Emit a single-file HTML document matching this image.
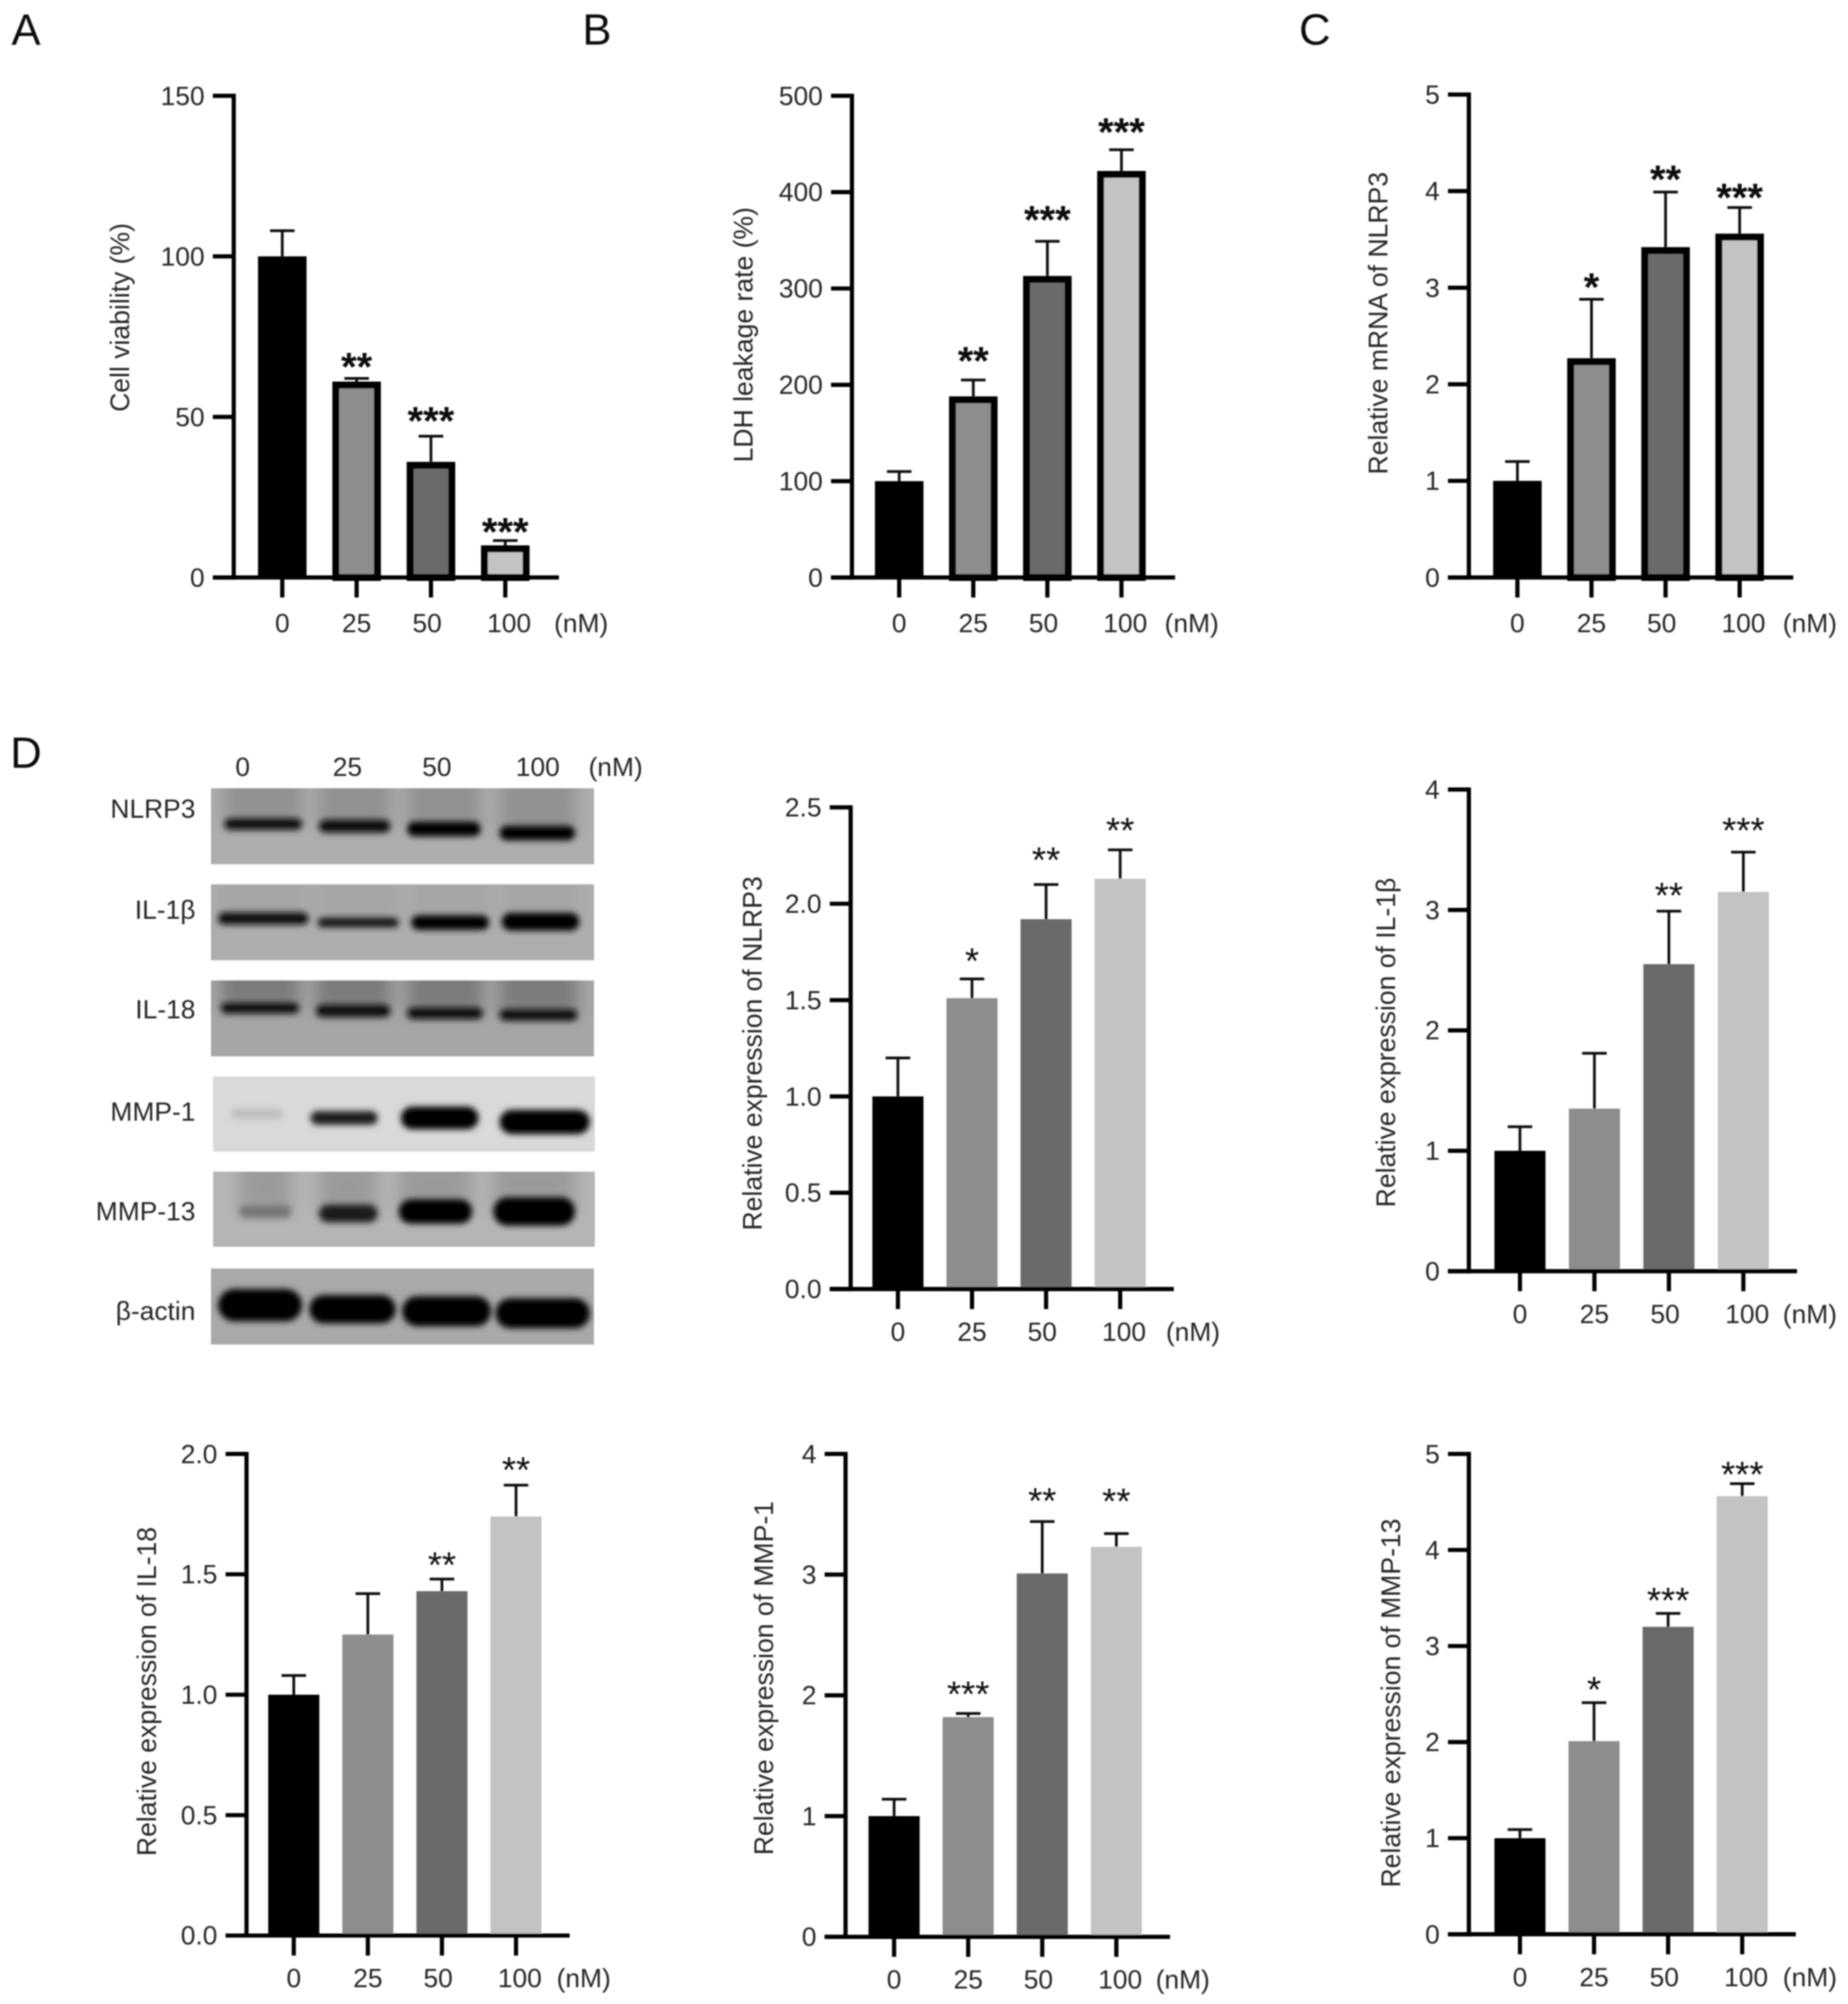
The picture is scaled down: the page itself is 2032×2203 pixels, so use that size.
<!DOCTYPE html>
<html lang="en">
<head>
<meta charset="utf-8">
<title>Dose-response bar charts and western blots</title>
<style>
html,body{margin:0;padding:0;background:#fff;}
svg{display:block;}
text{font-family:"Liberation Sans",sans-serif;fill:#262626;}
</style>
</head>
<body>
<svg id="figure" xmlns="http://www.w3.org/2000/svg" width="2032" height="2203" viewBox="0 0 2032 2203">
<defs>
<filter id="soft" x="-2%" y="-2%" width="104%" height="104%"><feGaussianBlur stdDeviation="0.8"/></filter>
<filter id="bandBlur" x="-20%" y="-60%" width="140%" height="220%"><feGaussianBlur stdDeviation="3.5"/></filter>
<filter id="hazeBlur" x="-30%" y="-50%" width="160%" height="200%"><feGaussianBlur stdDeviation="9"/></filter>
</defs>
<rect x="0" y="0" width="2032" height="2203" fill="#fff"/>
<g id="root" filter="url(#soft)"></g>
</svg>
<script>
// ---- chart data ----
const doseCategories = ['0', '25', '50', '100'];

const viabilityTicks = [0, 50, 100, 150];
const viabilityValues = [100, 61, 36, 10];
const viabilityErrorTops = [108, 62, 44, 11.5];
const viabilityStars = ['', '**', '***', '***'];

const ldhTicks = [0, 100, 200, 300, 400, 500];
const ldhValues = [100, 188, 313, 422];
const ldhErrorTops = [110, 205, 349, 444];
const ldhStars = ['', '**', '***', '***'];

const mrnaTicks = [0, 1, 2, 3, 4, 5];
const mrnaValues = [1, 2.27, 3.42, 3.56];
const mrnaErrorTops = [1.2, 2.88, 3.99, 3.83];
const mrnaStars = ['', '*', '**', '***'];

const nlrp3Ticks = ['0.0', '0.5', '1.0', '1.5', '2.0', '2.5'];
const nlrp3Values = [1, 1.51, 1.92, 2.13];
const nlrp3ErrorTops = [1.2, 1.61, 2.1, 2.28];
const nlrp3Stars = ['', '*', '**', '**'];

const il1bTicks = [0, 1, 2, 3, 4];
const il1bValues = [1, 1.35, 2.55, 3.15];
const il1bErrorTops = [1.2, 1.81, 2.99, 3.48];
const il1bStars = ['', '', '**', '***'];

const il18Ticks = ['0.0', '0.5', '1.0', '1.5', '2.0'];
const il18Values = [1, 1.25, 1.43, 1.74];
const il18ErrorTops = [1.08, 1.42, 1.48, 1.87];
const il18Stars = ['', '', '**', '**'];

const mmp1Ticks = [0, 1, 2, 3, 4];
const mmp1Values = [1, 1.82, 3.01, 3.23];
const mmp1ErrorTops = [1.14, 1.85, 3.44, 3.34];
const mmp1Stars = ['', '***', '**', '**'];

const mmp13Ticks = [0, 1, 2, 3, 4, 5];
const mmp13Values = [1, 2.01, 3.2, 4.56];
const mmp13ErrorTops = [1.09, 2.41, 3.34, 4.69];
const mmp13Stars = ['', '*', '***', '***'];

// ---- layout ----
const S = 2032 / 1449 * 1.0015;
const NS = 'http://www.w3.org/2000/svg';
const root = document.getElementById('root');
const barColors = ['#000000', '#8d8d8d', '#6a6a6a', '#c3c3c3'];
const labelShift = [0, 0, -3, 3];
const FONT = 29;

function make(parent, tag, props, content) {
  const el = document.createElementNS(NS, tag);
  for (const k in props) el.setAttribute(k, props[k]);
  if (content !== undefined) el.textContent = content;
  parent.appendChild(el);
  return el;
}

const panels = [
  {id: 'cell-viability', title: 'Cell viability (%)', ticks: viabilityTicks, values: viabilityValues, errs: viabilityErrorTops, stars: viabilityStars, starLift: [0, 2, 5, 0],
   axisX: 183, top: 75, bottom: 452, first: 221, step: 58.2, barW: 38, outlined: true, titleX: 94, titleY: 248.5, nmX: 455, starBold: true},
  {id: 'ldh-leakage', title: 'LDH leakage rate (%)', ticks: ldhTicks, values: ldhValues, errs: ldhErrorTops, stars: ldhStars, starLift: [0, 8, 10, 7],
   axisX: 667, top: 75, bottom: 452, first: 704, step: 58, barW: 38, outlined: true, titleX: 582, titleY: 262, nmX: 933, starBold: true},
  {id: 'nlrp3-mrna', title: 'Relative mRNA of NLRP3', ticks: mrnaTicks, values: mrnaValues, errs: mrnaErrorTops, stars: mrnaStars, starLift: [0, 2.5, 3, 1],
   axisX: 1150, top: 74, bottom: 452, first: 1188, step: 58, barW: 38, outlined: true, titleX: 1079, titleY: 253, nmX: 1417, starBold: true},
  {id: 'nlrp3-expression', title: 'Relative expression of NLRP3', ticks: nlrp3Ticks, values: nlrp3Values, errs: nlrp3ErrorTops, stars: nlrp3Stars, starLift: [0, 5, 10, 6],
   axisX: 666, top: 632, bottom: 1009, first: 703, step: 58, barW: 40, outlined: false, titleX: 589, titleY: 824.5, nmX: 934, starBold: false},
  {id: 'il1b-expression', title: 'Relative expression of IL-1\u03B2', ticks: il1bTicks, values: il1bValues, errs: il1bErrorTops, stars: il1bStars, starLift: [0, 0, 3, 8],
   axisX: 1150, top: 618, bottom: 995, first: 1190, step: 58.3, barW: 40, outlined: false, titleX: 1085, titleY: 816, nmX: 1417, starBold: false},
  {id: 'il18-expression', title: 'Relative expression of IL-18', ticks: il18Ticks, values: il18Values, errs: il18ErrorTops, stars: il18Stars, starLift: [0, 0, 2, 3],
   axisX: 193, top: 1138, bottom: 1515, first: 230, step: 58, barW: 40, outlined: false, titleX: 115, titleY: 1324, nmX: 457, starBold: false},
  {id: 'mmp1-expression', title: 'Relative expression of MMP-1', ticks: mmp1Ticks, values: mmp1Values, errs: mmp1ErrorTops, stars: mmp1Stars, starLift: [0, 6, 7, 16],
   axisX: 662, top: 1138, bottom: 1516, first: 700, step: 58, barW: 40, outlined: false, titleX: 598, titleY: 1313.5, nmX: 926, starBold: false},
  {id: 'mmp13-expression', title: 'Relative expression of MMP-13', ticks: mmp13Ticks, values: mmp13Values, errs: mmp13ErrorTops, stars: mmp13Stars, starLift: [0, 1, 1, -2],
   axisX: 1150, top: 1138, bottom: 1514, first: 1190, step: 58, barW: 40, outlined: false, titleX: 1089, titleY: 1333, nmX: 1417, starBold: false}
];

function drawPanel(p) {
  const g = make(root, 'g', {});
  
  

  const maxTick = Number(p.ticks[p.ticks.length - 1]);
  const yScale = v => (p.bottom - (v / maxTick) * (p.bottom - p.top)) * S;
  const xScale = i => (p.first + i * p.step) * S;
  const axisX = p.axisX * S;
  const axisW = 4.6;
  const baseY = p.bottom * S;
  const labelDrop = p.outlined ? 60 : 57;

  // bars
  p.values.forEach((v, i) => {
    const cx = xScale(i), w = p.barW * S, yv = yScale(v);
    if (p.outlined) {
      const sw = i === 0 ? 0 : 7.6;
      const bar = make(g, 'rect', {x: cx - w / 2 + sw / 2, y: yv + sw / 2, width: w - sw, height: Math.max(0, baseY - yv - sw / 2), fill: barColors[i], stroke: '#000', 'stroke-width': sw});
      
      
    } else {
      const bar = make(g, 'rect', {x: cx - w / 2, y: yv, width: w, height: Math.max(0, baseY - yv), fill: barColors[i]});
      
      
    }
    // error bar
    const ye = yScale(p.errs[i]);
    const stem = make(g, 'line', {x1: cx, x2: cx, y1: yv, y2: ye, stroke: '#111', 'stroke-width': 3});
    
    
    const cap = make(g, 'line', {x1: cx - 13.5, x2: cx + 13.5, y1: ye, y2: ye, stroke: '#111', 'stroke-width': 3});
    
    
    // significance
    if (p.stars[i]) {
      const size = p.starBold ? 44 : 40;
      const star = make(g, 'text', {x: cx, y: ye - (p.starBold ? 20 : 22) - p.starLift[i] * S + size * 0.57, 'text-anchor': 'middle', 'font-size': size, 'font-weight': p.starBold ? 'bold' : 'normal', style: 'fill:#111'}, p.stars[i]);
      
      
    }
    // x tick + label
    const xt = make(g, 'line', {x1: cx, x2: cx, y1: baseY, y2: baseY + 22, stroke: '#000', 'stroke-width': 4.6});
    
    
    const xl = make(g, 'text', {x: cx + labelShift[i] * S, y: baseY + labelDrop, 'text-anchor': 'middle', 'font-size': FONT}, doseCategories[i]);
    
    
  });

  // axes
  const yAxis = make(g, 'line', {x1: axisX, x2: axisX, y1: p.top * S - axisW / 2, y2: baseY + axisW / 2, stroke: '#000', 'stroke-width': axisW});
  
  
  const xAxis = make(g, 'line', {x1: axisX - 23, x2: xScale(3) + 59, y1: baseY, y2: baseY, stroke: '#000', 'stroke-width': axisW});
  
  

  // y ticks
  p.ticks.forEach(t => {
    const y = yScale(Number(t));
    const tick = make(g, 'line', {x1: axisX - 23, x2: axisX, y1: y, y2: y, stroke: '#000', 'stroke-width': axisW});
    
    
    const label = make(g, 'text', {x: axisX - 32, y: y + 10, 'text-anchor': 'end', 'font-size': FONT}, String(t));
    
    
  });

  // titles
  const tx = p.titleX * S, ty = p.titleY * S;
  const title = make(g, 'text', {x: tx, y: ty, dy: '0.35em', 'text-anchor': 'middle', 'font-size': 29.2, transform: 'rotate(-90 ' + tx + ' ' + ty + ')'}, p.title);
  
  

  const unit = make(g, 'text', {x: p.nmX * S, y: baseY + labelDrop, 'text-anchor': 'middle', 'font-size': FONT}, '(nM)');
  
  
}
panels.forEach(drawPanel);

// ---- panel letters ----
[['A', 9, 35], ['B', 456, 35], ['C', 1017, 35], ['D', 8, 601]].forEach(d => {
  const letter = make(root, 'text', {x: d[1] * S, y: d[2] * S, 'font-size': 48, style: 'fill:#111'}, d[0]);
  
  
});

// ---- western blot (coordinates in blot-zoom units) ----
const bx = z => (z / 3.04 - 2) * S;
const by = z => (569.2 + z / 3.139) * S;
const blotRows = [
  {name: 'NLRP3', label: 'NLRP3', y0: 150, y1: 337, x0: 508, x1: 1420, bg: '#adadad', haze: 0.16, ly: 633,
   bands: [[540, 725, 238, 28, '#0c0c0c'], [765, 935, 243, 32, '#0c0c0c'], [975, 1150, 250, 36, '#050505'], [1195, 1375, 260, 36, '#050505']]},
  {name: 'IL-1b', label: 'IL-1\u03B2', y0: 386, y1: 573, x0: 508, x1: 1420, bg: '#adadad', haze: 0.04, ly: 712,
   bands: [[525, 740, 470, 30, '#101010'], [762, 955, 480, 24, '#141414'], [985, 1170, 480, 36, '#050505'], [1200, 1385, 478, 44, '#000']]},
  {name: 'IL-18', label: 'IL-18', y0: 622, y1: 809, x0: 508, x1: 1420, bg: '#a6a6a6', haze: 0.26, ly: 790,
   bands: [[532, 718, 690, 26, '#0c0c0c'], [758, 935, 697, 30, '#0c0c0c'], [975, 1155, 703, 28, '#0c0c0c'], [1195, 1380, 707, 28, '#0c0c0c']]},
  {name: 'MMP-1', label: 'MMP-1', y0: 858, y1: 1043, x0: 513, x1: 1422, bg: '#d9d9d9', haze: 0, ly: 870,
   bands: [[555, 680, 950, 26, '#bdbdbd'], [745, 905, 960, 34, '#1a1a1a'], [960, 1145, 960, 56, '#000'], [1195, 1410, 970, 60, '#000']]},
  {name: 'MMP-13', label: 'MMP-13', y0: 1092, y1: 1277, x0: 513, x1: 1422, bg: '#b5b5b5', haze: 0.14, ly: 948,
   bands: [[575, 700, 1190, 32, '#777'], [765, 905, 1195, 44, '#1c1c1c'], [955, 1130, 1190, 60, '#030303'], [1180, 1375, 1190, 70, '#000']]},
  {name: 'beta-actin', label: '\u03B2-actin', y0: 1330, y1: 1517, x0: 508, x1: 1420, bg: '#a9a9a9', haze: 0, ly: 1026,
   bands: [[525, 725, 1420, 80, '#000'], [742, 948, 1430, 70, '#000'], [963, 1175, 1435, 74, '#000'], [1185, 1410, 1440, 74, '#000']]}
];

const blotGroup = make(root, 'g', {});


const defs = document.querySelector('defs');

blotRows.forEach((r, ri) => {
  const clip = make(defs, 'clipPath', {id: 'rowClip' + ri});
  make(clip, 'rect', {x: bx(r.x0), y: by(r.y0), width: bx(r.x1) - bx(r.x0), height: by(r.y1) - by(r.y0)});

  const row = make(blotGroup, 'g', {'clip-path': 'url(#rowClip' + ri + ')'});
  
  
  const strip = make(row, 'rect', {x: bx(r.x0), y: by(r.y0), width: bx(r.x1) - bx(r.x0), height: by(r.y1) - by(r.y0), fill: r.bg});
  
  
  r.bands.forEach((b, i) => {
    if (r.haze > 0) {
      const haze = make(row, 'rect', {x: bx(b[0]), y: by(r.y0) - 14, width: bx(b[1]) - bx(b[0]), height: by(b[2]) - by(r.y0) + 14, fill: '#000', opacity: r.haze, filter: 'url(#hazeBlur)'});
      
      
    }
    const h = by(b[2] + b[3] / 2) - by(b[2] - b[3] / 2);
    const band = make(row, 'rect', {x: bx(b[0]), y: by(b[2]) - h / 2, width: bx(b[1]) - bx(b[0]), height: h, rx: h / 2, fill: b[4], filter: 'url(#bandBlur)'});
    
    
  });
  const lbl = make(blotGroup, 'text', {x: 153 * S, y: r.ly * S + 10, 'text-anchor': 'end', 'font-size': FONT}, r.label);
  
  
});

[['0', 190], ['25', 272], ['50', 342], ['100', 421], ['(nM)', 482]].forEach(d => {
  const head = make(blotGroup, 'text', {x: d[1] * S, y: 607.5 * S, 'text-anchor': 'middle', 'font-size': FONT}, d[0]);
  
  
});
</script>
</body>
</html>
